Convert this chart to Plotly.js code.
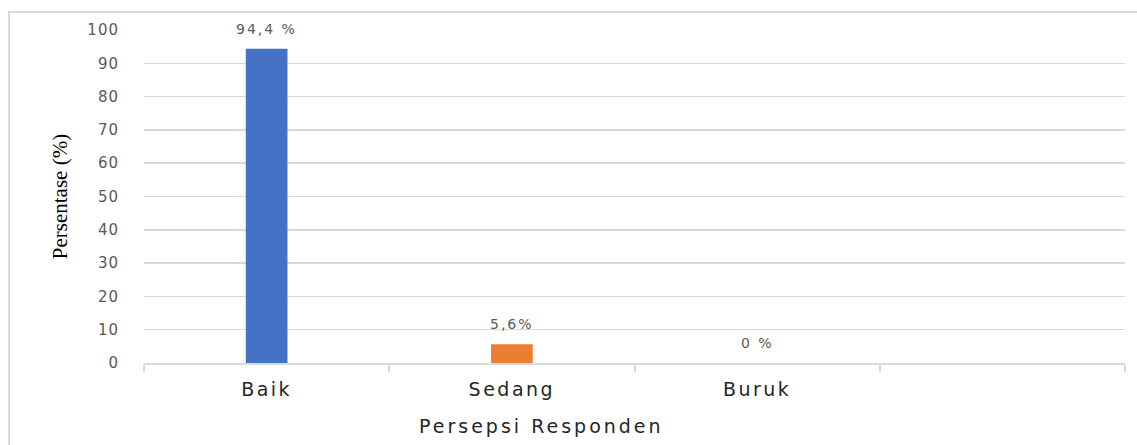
<!DOCTYPE html>
<html>
<head>
<meta charset="utf-8">
<script src="https://cdn.plot.ly/plotly-3.0.1.min.js"></script>
<style>
  html, body { margin:0; padding:0; background:#fff; }
  #frame { position:absolute; left:8px; top:11px; width:1129px; height:434px;
           border-left:2px solid #d9d9d9; border-top:2px solid #d9d9d9; box-sizing:border-box; }
  #chart { position:absolute; left:0; top:0; width:1137px; height:445px; }
  .xtick text { letter-spacing:2.5px; }
  .ytick text { letter-spacing:1px; }
  .annotation-text { letter-spacing:2px; }
  .annotation.xtitle .annotation-text { letter-spacing:3px; }
</style>
</head>
<body>
<div id="frame"></div>
<div id="chart"></div>
<script>
const categories = ["Baik", "Sedang", "Buruk"];
const allSlots = ["Baik", "Sedang", "Buruk", " "];
const values = [94.4, 5.6, 0];
const valueLabels = ["94,4 %", "5,6%", "0 %"];
const barColors = ["#4472C4", "#ED7D31", "#A5A5A5"];
const yTicks = [0, 10, 20, 30, 40, 50, 60, 70, 80, 90, 100];

const trace = {
  type: "bar",
  x: categories,
  y: values,
  marker: { color: barColors },
  width: 0.17,
  hoverinfo: "none"
};

const annotations = categories.map((c, i) => ({
  x: c, y: values[i], xref: "x", yref: "y",
  text: valueLabels[i], showarrow: false,
  yshift: 20, yanchor: "middle",
  font: { family: "DejaVu Sans", size: 14, color: "#595959" }
}));
annotations.push({
  x: 0.405, y: -0.19, xref: "paper", yref: "paper",
  text: "Persepsi Responden", showarrow: false,
  xanchor: "center", yanchor: "middle",
  font: { family: "DejaVu Sans", size: 19, color: "#262626" }
});

const layout = {
  width: 1137, height: 445,
  margin: { l: 144, r: 12, t: 30, b: 82 },
  paper_bgcolor: "rgba(0,0,0,0)",
  plot_bgcolor: "rgba(0,0,0,0)",
  showlegend: false,
  xaxis: {
    type: "category",
    categoryorder: "array",
    categoryarray: allSlots,
    range: [-0.5, 3.5],
    tickson: "boundaries",
    ticks: "outside", ticklen: 7, tickwidth: 2, tickcolor: "#d9d9d9",
    showline: true, linecolor: "#d9d9d9", linewidth: 2,
    showgrid: false,
    ticklabelstandoff: 8,
    tickfont: { family: "DejaVu Sans", size: 19, color: "#262626" },
    fixedrange: true
  },
  yaxis: {
    range: [0, 100],
    tickvals: yTicks,
    ticktext: yTicks.map(String),
    showgrid: true, gridcolor: "#d9d9d9", gridwidth: 1.5,
    zeroline: false, showline: false,
    ticks: "", ticklabelstandoff: 24,
    tickfont: { family: "DejaVu Sans", size: 15, color: "#595959" },
    title: { text: "Persentase (%)", standoff: 14,
             font: { family: "Liberation Serif", size: 21, color: "#000" } },
    fixedrange: true
  },
  annotations: annotations
};

Plotly.newPlot("chart", [trace], layout, { displayModeBar: false, staticPlot: true }).then(() => {
  const els = document.querySelectorAll(".annotation");
  if (els.length) els[els.length - 1].classList.add("xtitle");
});
</script>
</body>
</html>
